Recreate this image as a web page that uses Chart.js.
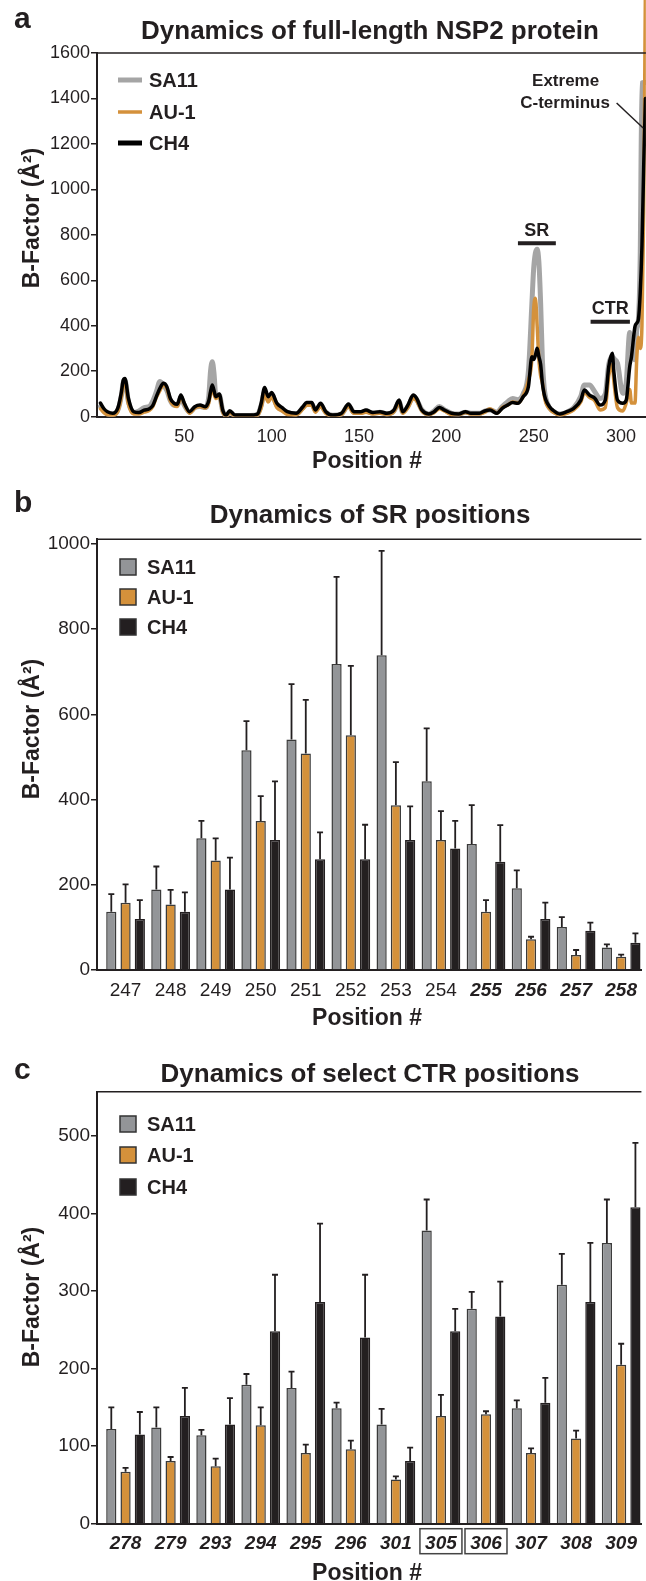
<!DOCTYPE html>
<html>
<head>
<meta charset="utf-8">
<script src="https://cdn.jsdelivr.net/npm/chart.js@4.4.1/dist/chart.umd.min.js"></script>
<style>
  body { margin: 0; background: #fff; width: 646px; height: 1581px; overflow: hidden; position: relative; }
  canvas { position: absolute; left: 0; }
</style>
</head>
<body>
<canvas id="panelA" width="646" height="480" style="top:0px"></canvas>
<canvas id="panelB" width="646" height="560" style="top:480px"></canvas>
<canvas id="panelC" width="646" height="541" style="top:1040px"></canvas>
<script>
const FONT = "'Liberation Sans', Arial, Helvetica, sans-serif";
const INK = '#231f20';
const GREY = '#939598', ORANGE = '#d4913b', BLACK = '#231f20', LINE_GREY = '#a5a5a5';
const seriesNames = ['SA11', 'AU-1', 'CH4'];

// panel a: B-factor along the full-length protein
const posA = [2, 4, 6, 9, 12, 14, 15, 16, 18, 21,
  24, 27, 30, 32, 34, 36, 38, 40, 42, 44,
  46, 48, 50, 53, 56, 59, 62, 64, 65, 66,
  67, 68, 70, 72, 74, 76, 79, 82, 86, 90,
  92, 94, 96, 98, 100, 103, 106, 109, 114, 118,
  120, 123, 125, 128, 131, 135, 140, 144, 147, 151,
  154, 158, 162, 166, 170, 173, 175, 178, 181, 183,
  186, 190, 193, 196, 199, 203, 207, 211, 214, 219,
  222, 225, 229, 232, 235, 238, 241, 244, 247, 249,
  250, 251, 252, 253, 254, 255, 256, 257, 259, 261,
  265, 269, 273, 277, 279, 282, 285, 288, 291, 293,
  295, 296, 298, 301, 303, 305, 306, 308, 309, 310,
  311, 312, 313, 314];
const sa11A = [45, 25, 12, 10, 30, 95, 150, 160, 65, 18,
  25, 40, 45, 70, 110, 155, 140, 115, 70, 50,
  50, 85, 50, 20, 40, 45, 40, 90, 200, 242,
  190, 95, 95, 25, 5, 20, 5, 5, 5, 6,
  10, 50, 110, 75, 95, 50, 30, 18, 12, 40,
  55, 55, 28, 50, 20, 6, 12, 50, 20, 18,
  25, 15, 20, 12, 25, 65, 20, 45, 85, 75,
  30, 12, 25, 45, 30, 15, 12, 20, 15, 15,
  25, 30, 20, 45, 65, 80, 75, 100, 200, 500,
  650, 720, 737, 680, 500, 250, 130, 80, 40, 25,
  12, 20, 40, 90, 140, 140, 110, 80, 100, 230,
  265, 255, 235, 103, 150, 370, 300, 250, 380, 430,
  700, 1468, 1470, 1470];
const au1A = [35, 18, 8, 6, 25, 90, 145, 155, 55, 12,
  12, 20, 28, 45, 85, 115, 140, 125, 70, 50,
  45, 90, 55, 15, 38, 45, 38, 60, 100, 130,
  100, 80, 90, 20, 3, 18, 3, 3, 3, 4,
  8, 40, 100, 65, 85, 40, 25, 10, 8, 35,
  50, 50, 20, 45, 15, 4, 10, 45, 15, 15,
  20, 12, 15, 10, 22, 60, 15, 40, 80, 70,
  25, 10, 18, 35, 25, 10, 10, 18, 12, 12,
  20, 35, 15, 40, 50, 65, 60, 90, 160, 260,
  470, 521, 400, 250, 180, 150, 95, 60, 35, 20,
  8, 15, 30, 65, 105, 85, 70, 30, 40, 180,
  230, 150, 40, 25, 60, 120, 60, 60, 250, 350,
  300, 400, 900, 1900];
const ch4A = [60, 35, 22, 15, 40, 110, 160, 168, 80, 22,
  18, 29, 35, 50, 88, 125, 147, 132, 80, 60,
  55, 95, 59, 22, 44, 51, 44, 70, 110, 139,
  115, 88, 100, 29, 7, 26, 7, 7, 7, 8,
  12, 59, 129, 88, 106, 59, 40, 22, 15, 45,
  62, 62, 30, 59, 22, 7, 15, 56, 22, 22,
  29, 18, 22, 15, 29, 73, 22, 51, 95, 81,
  29, 12, 22, 41, 29, 15, 12, 22, 15, 15,
  25, 29, 15, 37, 51, 62, 59, 88, 132, 264,
  252, 270, 301, 264, 230, 147, 100, 73, 45, 29,
  12, 22, 37, 73, 117, 95, 81, 51, 73, 220,
  279, 191, 73, 59, 73, 220, 264, 396, 411, 430,
  543, 750, 1100, 1400];
const xTicksA = [50, 100, 150, 200, 250, 300];
const yTicksA = [0, 200, 400, 600, 800, 1000, 1200, 1400, 1600];

// panel b: SR positions (mean and SD)
const srPositions = ['247', '248', '249', '250', '251', '252', '253', '254', '255', '256', '257', '258'];
const sa11B = [137, 189, 309, 516, 541, 718, 739, 443, 296, 192, 101, 53];
const sa11BSd = [41, 54, 41, 68, 130, 205, 245, 124, 91, 42, 23, 7];
const au1B = [158, 154, 257, 350, 508, 551, 387, 305, 137, 72, 35, 31];
const au1BSd = [43, 34, 52, 58, 126, 163, 101, 68, 27, 6, 12, 5];
const ch4B = [120, 137, 189, 305, 260, 260, 305, 285, 254, 120, 92, 64];
const ch4BSd = [44, 45, 75, 138, 63, 81, 79, 65, 86, 38, 19, 22];
const yTicksB = [0, 200, 400, 600, 800, 1000];

// panel c: select CTR positions
const ctrPositions = ['278', '279', '293', '294', '295', '296', '301', '305', '306', '307', '308', '309'];
const sa11C = [122, 124, 114, 179, 175, 149, 128, 378, 277, 149, 308, 362];
const sa11CSd = [28, 26, 7, 14, 21, 7, 20, 40, 22, 10, 40, 56];
const au1C = [67, 81, 74, 127, 91, 96, 57, 139, 141, 91, 110, 205];
const au1CSd = [5, 5, 10, 23, 11, 11, 4, 27, 4, 6, 10, 27];
const ch4C = [115, 139, 128, 248, 286, 240, 81, 248, 267, 156, 286, 408];
const ch4CSd = [29, 36, 34, 73, 101, 81, 17, 29, 45, 32, 76, 83];
const yTicksC = [0, 100, 200, 300, 400, 500];

Chart.defaults.font.family = FONT;
Chart.defaults.color = INK;

function decor(opt) {
  return {
    id: 'decor',
    afterDraw(chart) {
      const ctx = chart.ctx, a = chart.chartArea;
      ctx.save();
      ctx.fillStyle = INK;
      ctx.strokeStyle = INK;
      ctx.lineWidth = 1.5;
      ctx.beginPath();
      ctx.moveTo(a.left, a.top);
      ctx.lineTo(a.right, a.top);
      ctx.stroke();

      ctx.textBaseline = 'alphabetic';
      ctx.textAlign = 'left';
      ctx.font = 'bold 30px ' + FONT;
      ctx.fillText(opt.letter, 14, opt.letterY);
      ctx.textAlign = 'center';
      ctx.font = 'bold 26px ' + FONT;
      ctx.fillText(opt.title, 370, opt.titleY);
      ctx.font = 'bold 23px ' + FONT;
      ctx.fillText('Position #', 367, opt.xTitleY);
      ctx.save();
      ctx.translate(33, opt.yTitleY);
      ctx.rotate(-Math.PI / 2);
      ctx.textBaseline = 'middle';
      ctx.fillText('B-Factor (Å²)', 0, 0);
      ctx.restore();

      // legend
      ctx.font = 'bold 20px ' + FONT;
      ctx.textAlign = 'left';
      ctx.textBaseline = 'middle';
      chart.data.datasets.forEach((ds, i) => {
        const y = opt.legendY[i];
        if (opt.legendType === 'line') {
          ctx.strokeStyle = ds.borderColor;
          ctx.lineWidth = i === 1 ? 3.5 : 5;
          ctx.beginPath();
          ctx.moveTo(118, y);
          ctx.lineTo(142, y);
          ctx.stroke();
        } else {
          ctx.fillStyle = ds.backgroundColor;
          ctx.fillRect(120, y - 8, 16, 16);
          ctx.strokeStyle = '#333';
          ctx.lineWidth = 1.5;
          ctx.strokeRect(120, y - 8, 16, 16);
        }
        ctx.fillStyle = INK;
        ctx.fillText(ds.label, opt.legendType === 'line' ? 149 : 147, y + 1);
      });
      ctx.restore();
    }
  };
}

const errorBars = {
  id: 'errorBars',
  afterDatasetsDraw(chart) {
    const ctx = chart.ctx, ys = chart.scales.y;
    ctx.save();
    ctx.strokeStyle = INK;
    ctx.lineWidth = 1.8;
    chart.data.datasets.forEach((ds, i) => {
      chart.getDatasetMeta(i).data.forEach((bar, j) => {
        const top = ys.getPixelForValue(ds.data[j].y + ds.sd[j]);
        ctx.beginPath();
        ctx.moveTo(bar.x, bar.y);
        ctx.lineTo(bar.x, top);
        ctx.moveTo(bar.x - 3, top);
        ctx.lineTo(bar.x + 3, top);
        ctx.stroke();
      });
    });
    ctx.restore();
  }
};

const annotA = {
  id: 'annotA',
  afterDraw(chart) {
    const ctx = chart.ctx, xs = chart.scales.x, ys = chart.scales.y;
    ctx.save();
    ctx.fillStyle = INK;
    ctx.strokeStyle = INK;
    ctx.lineWidth = 4;
    ctx.beginPath();
    ctx.moveTo(xs.getPixelForValue(241), ys.getPixelForValue(763));
    ctx.lineTo(xs.getPixelForValue(262.7), ys.getPixelForValue(763));
    ctx.moveTo(xs.getPixelForValue(282.6), ys.getPixelForValue(418));
    ctx.lineTo(xs.getPixelForValue(305.1), ys.getPixelForValue(418));
    ctx.stroke();
    ctx.textAlign = 'center';
    ctx.textBaseline = 'middle';
    ctx.font = 'bold 18px ' + FONT;
    ctx.fillText('SR', xs.getPixelForValue(251.8), ys.getPixelForValue(815));
    ctx.fillText('CTR', xs.getPixelForValue(293.8), ys.getPixelForValue(474));
    ctx.font = 'bold 17px ' + FONT;
    ctx.fillText('Extreme', xs.getPixelForValue(268.3), ys.getPixelForValue(1475));
    ctx.fillText('C-terminus', xs.getPixelForValue(268), ys.getPixelForValue(1380));
    ctx.lineWidth = 1.5;
    ctx.beginPath();
    ctx.moveTo(xs.getPixelForValue(297.5), ys.getPixelForValue(1380));
    ctx.lineTo(xs.getPixelForValue(312.7), ys.getPixelForValue(1270));
    ctx.stroke();
    ctx.restore();
  }
};

const boxedTicks = {
  id: 'boxedTicks',
  afterDraw(chart) {
    const ctx = chart.ctx, xs = chart.scales.x, a = chart.chartArea;
    ctx.save();
    ctx.strokeStyle = '#444';
    ctx.lineWidth = 1.5;
    [7, 8].forEach(i => {
      const x = xs.getPixelForValue(i);
      ctx.strokeRect(x - 21, a.bottom + 5, 42, 25);
    });
    ctx.restore();
  }
};

function yAxis(max, tickVals, size) {
  return {
    min: 0, max: max,
    afterFit: s => { s.width = 97; },
    afterBuildTicks: s => { s.ticks = tickVals.map(v => ({ value: v })); },
    ticks: { padding: 1, font: { size: size }, color: INK, callback: v => String(v) },
    grid: { drawOnChartArea: false, drawTicks: true, tickLength: 6, color: INK, lineWidth: 1.5 },
    border: { display: true, width: 2, color: INK }
  };
}

function lineSet(label, vals, color, width, order) {
  return { label: label, data: posA.map((p, i) => ({ x: p, y: vals[i] })), borderColor: color,
    borderWidth: width, order: order };
}

const au1Set = lineSet(seriesNames[1], au1A, ORANGE, 3.5, 2);
au1Set.clip = { left: 0, top: 60, right: 0, bottom: 0 };

new Chart(document.getElementById('panelA'), {
  type: 'line',
  data: {
    datasets: [
      lineSet(seriesNames[0], sa11A, LINE_GREY, 5, 3),
      au1Set,
      lineSet(seriesNames[2], ch4A, '#000', 3.5, 1)
    ]
  },
  options: {
    responsive: false, animation: false, devicePixelRatio: 1,
    layout: { padding: { top: 53, left: 0, right: 0, bottom: 0 } },
    elements: { point: { radius: 0 }, line: { cubicInterpolationMode: 'monotone', borderJoinStyle: 'round', borderCapStyle: 'round' } },
    plugins: { legend: { display: false }, title: { display: false }, tooltip: { enabled: false } },
    scales: {
      x: {
        type: 'linear', min: 0, max: 314.25,
        afterFit: s => { s.height = 63.3; },
        afterBuildTicks: s => { s.ticks = xTicksA.map(v => ({ value: v })); },
        ticks: { padding: 10, font: { size: 18 }, color: INK, maxRotation: 0, autoSkip: false, callback: v => String(v) },
        grid: { display: false, drawTicks: false },
        border: { display: true, width: 2, color: INK }
      },
      y: yAxis(1600, yTicksA, 18)
    }
  },
  plugins: [annotA, decor({ letter: 'a', letterY: 28, title: 'Dynamics of full-length NSP2 protein', titleY: 38.5,
    xTitleY: 468, yTitleY: 218, legendType: 'line', legendY: [80, 112, 143] })]
});

function barSet(label, vals, sd, color) {
  return { label: label, data: vals.map((v, i) => ({ x: i, y: v })), sd: sd, backgroundColor: color,
    borderColor: color === BLACK ? BLACK : '#3a3a3a', borderWidth: 1.5,
    categoryPercentage: 0.95, barPercentage: 0.715 };
}

function barOptions(labels, yMax, yTicks, topPad, xHeight, boldFrom) {
  return {
    responsive: false, animation: false, devicePixelRatio: 1,
    layout: { padding: { top: topPad, left: 0, right: 0, bottom: 0 } },
    plugins: { legend: { display: false }, title: { display: false }, tooltip: { enabled: false } },
    scales: {
      x: {
        type: 'linear', min: -0.634, max: 11.45, offset: false,
        afterFit: s => { s.height = xHeight; },
        afterBuildTicks: s => { s.ticks = labels.map((_, i) => ({ value: i })); },
        ticks: {
          padding: 9, color: INK, maxRotation: 0, autoSkip: false,
          callback: v => labels[Math.round(v)],
          font: c => (c.index >= boldFrom ? { size: 19, weight: 'bold', style: 'italic' } : { size: 19 })
        },
        grid: { display: false, drawTicks: false, offset: false },
        border: { display: true, width: 2, color: INK }
      },
      y: yAxis(yMax, yTicks, 19)
    }
  };
}

new Chart(document.getElementById('panelB'), {
  type: 'bar',
  data: {
    datasets: [
      barSet(seriesNames[0], sa11B, sa11BSd, GREY),
      barSet(seriesNames[1], au1B, au1BSd, ORANGE),
      barSet(seriesNames[2], ch4B, ch4BSd, BLACK)
    ]
  },
  options: barOptions(srPositions, 1011, yTicksB, 59.3, 70, 8),
  plugins: [errorBars, decor({ letter: 'b', letterY: 32, title: 'Dynamics of SR positions', titleY: 43,
    xTitleY: 545, yTitleY: 249, legendType: 'box', legendY: [87, 117, 147] })]
});

new Chart(document.getElementById('panelC'), {
  type: 'bar',
  data: {
    datasets: [
      barSet(seriesNames[0], sa11C, sa11CSd, GREY),
      barSet(seriesNames[1], au1C, au1CSd, ORANGE),
      barSet(seriesNames[2], ch4C, ch4CSd, BLACK)
    ]
  },
  options: barOptions(ctrPositions, 557, yTicksC, 51.7, 57.3, 0),
  plugins: [errorBars, boxedTicks, decor({ letter: 'c', letterY: 39, title: 'Dynamics of select CTR positions', titleY: 42,
    xTitleY: 540, yTitleY: 257, legendType: 'box', legendY: [84, 115, 147] })]
});
</script>
</body>
</html>
